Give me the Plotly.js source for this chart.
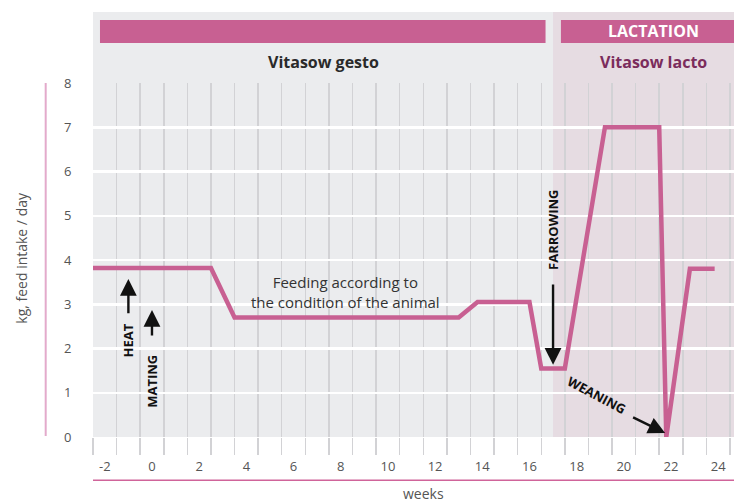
<!DOCTYPE html>
<html>
<head>
<meta charset="utf-8">
<script src="https://cdn.plot.ly/plotly-3.0.1.min.js"></script>
<style>
html,body{margin:0;padding:0;background:#fff;}
#chart{width:734px;height:504px;}
</style>
</head>
<body>
<div id="chart"></div>
<script>
// Data
const weeks = [-2.5, 2.5, 3.5, 13, 13.8, 16, 16.5, 17.5, 19.2, 21.5, 21.8, 22.8, 23.85];
const feedIntake = [3.82, 3.82, 2.7, 2.7, 3.05, 3.05, 1.55, 1.55, 7, 7, 0, 3.8, 3.8];
const xTickVals = [-2, 0, 2, 4, 6, 8, 10, 12, 14, 16, 18, 20, 22, 24];
const xTickText = ['-2', '0', '2', '4', '6', '8', '10', '12', '14', '16', '18', '20', '22', '24'];
const yTickVals = [0, 1, 2, 3, 4, 5, 6, 7, 8];
const lactationStart = 17;
const events = [
  {label: 'HEAT', week: -1, textY: 2.19, tailY: 2.76, tipY: 3.57},
  {label: 'MATING', week: 0, textY: 1.27, tailY: 2.26, tipY: 2.87},
  {label: 'FARROWING', week: 17, textY: 4.68, tailY: 3.48, tipY: 1.63}
];
const weaning = {label: 'WEANING', textWeek: 18.85, textY: 0.95, tailWeek: 20.33, tailY: 0.46, tipWeek: 21.75, tipY: 0.09};

const PINK = '#c86092';
const FONT = 'Open Sans, sans-serif';

const annotations = [];
function note(o) {
  annotations.push(Object.assign({xanchor: 'center', yanchor: 'middle', showarrow: false}, o));
}
function arrow(x0, y0, x1, y1) {
  annotations.push({x: x1, y: y1, ax: x0, ay: y0, xref: 'x', yref: 'y', axref: 'x', ayref: 'y',
    text: '', showarrow: true, arrowhead: 2, arrowsize: 1.4, arrowwidth: 2.4, arrowcolor: '#111',
    standoff: 0, startstandoff: 0});
}
events.forEach(e => {
  note({x: e.week, y: e.textY, xref: 'x', yref: 'y', text: '<b>' + e.label + '</b>',
    textangle: -90, font: {family: FONT, size: 13, color: '#111'}});
  arrow(e.week, e.tailY, e.week, e.tipY);
});
note({x: weaning.textWeek, y: weaning.textY, xref: 'x', yref: 'y', text: '<b>' + weaning.label + '</b>',
  textangle: 28, font: {family: FONT, size: 13, color: '#111'}});
arrow(weaning.tailWeek, weaning.tailY, weaning.tipWeek, weaning.tipY);
note({x: 8.21, y: 3.28, xref: 'x', yref: 'y', text: 'Feeding according to<br>the condition of the animal',
  font: {family: FONT, size: 15, color: '#333'}});
// header texts
note({x: 0.359, y: 1.059, xref: 'paper', yref: 'paper', text: '<b>Vitasow gesto</b>',
  font: {family: FONT, size: 16, color: '#2a2a2a'}});
note({x: 0.874, y: 1.059, xref: 'paper', yref: 'paper', text: '<b>Vitasow lacto</b>',
  font: {family: FONT, size: 16, color: '#7b2c5c'}});
note({x: 0.874, y: 1.146, xref: 'paper', yref: 'paper', text: '<b>LACTATION</b>',
  font: {family: FONT, size: 16, color: '#ffffff'}});
// axis titles
note({x: -0.111, y: 0.506, xref: 'paper', yref: 'paper', text: 'kg, feed intake / day', textangle: -90,
  font: {family: FONT, size: 14, color: '#555'}});
note({x: 0.516, y: -0.160, xref: 'paper', yref: 'paper', text: 'weeks',
  font: {family: FONT, size: 14, color: '#555'}});

const shapes = [
  {type: 'rect', xref: 'paper', yref: 'paper', x0: 0, x1: 1, y0: 1, y1: 1.2006, fillcolor: '#ebecee', line: {width: 0}, layer: 'below'},
  {type: 'rect', xref: 'x', yref: 'paper', x0: lactationStart, x1: 40, y0: 0, y1: 1.2006, fillcolor: '#e6dce2', line: {width: 0}, layer: 'below'},
  {type: 'rect', xref: 'paper', yref: 'paper', x0: 0.0109, x1: 0.706, y0: 1.113, y1: 1.178, fillcolor: PINK, line: {width: 0}, layer: 'above'},
  {type: 'rect', xref: 'paper', yref: 'paper', x0: 0.730, x1: 1.0, y0: 1.113, y1: 1.178, fillcolor: PINK, line: {width: 0}, layer: 'above'},
  {type: 'line', xref: 'paper', yref: 'paper', x0: -0.0738, x1: -0.0738, y0: 0.003, y1: 1, line: {color: '#e3aacb', width: 2}},
  {type: 'line', xref: 'paper', yref: 'paper', x0: 0, x1: 1, y0: -0.1225, y1: -0.1225, line: {color: '#d0649a', width: 1.5}}
];

const trace = {
  x: weeks, y: feedIntake, type: 'scatter', mode: 'lines',
  line: {color: PINK, width: 4.5, shape: 'linear'},
  hoverinfo: 'x+y'
};

const layout = {
  width: 734, height: 504,
  margin: {l: 93, r: 0, t: 83, b: 67},
  paper_bgcolor: '#ffffff',
  plot_bgcolor: '#ebecee',
  showlegend: false,
  font: {family: FONT},
  xaxis: {
    range: [-2.5, 24.67], fixedrange: true,
    tickvals: xTickVals, ticktext: xTickText,
    showgrid: false, zeroline: false, showline: false,
    ticks: 'outside', ticklen: 17, tickcolor: 'rgba(0,0,0,0)',
    tickfont: {family: FONT, size: 13, color: '#555'},
    minor: {tick0: -1.5, dtick: 1, showgrid: true, gridcolor: '#d2d2d5', gridwidth: 1.5,
      ticks: 'outside', ticklen: 17, tickcolor: '#d2d2d5', tickwidth: 1.5}
  },
  yaxis: {
    range: [0, 8], fixedrange: true,
    tickvals: yTickVals,
    showgrid: true, gridcolor: '#ffffff', gridwidth: 2.5,
    zeroline: false, showline: false,
    ticks: 'outside', ticklen: 18, tickcolor: 'rgba(0,0,0,0)',
    tickfont: {family: FONT, size: 13, color: '#555'}
  },
  shapes: shapes,
  annotations: annotations
};

Plotly.newPlot('chart', [trace], layout, {displayModeBar: false, staticPlot: true});
</script>
</body>
</html>
